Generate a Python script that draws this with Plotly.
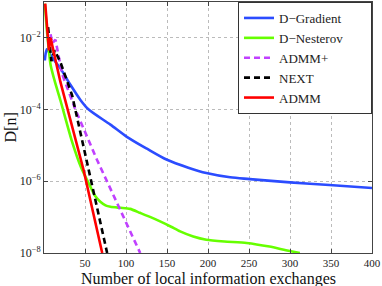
import plotly.graph_objects as go

# ---- data ----
grad_x = [1, 3.5, 10, 20, 32.2, 44.4, 54.5, 81, 101, 125.5, 150, 176, 198, 227, 251, 300, 348, 400]
grad_y = [2.34e-3, 4.79e-3, 2.82e-3, 1.41e-3, 4.9e-4, 1.86e-4, 1.0e-4, 3.8e-5, 1.74e-5, 8.1e-6,
          3.98e-6, 2.4e-6, 1.7e-6, 1.29e-6, 1.15e-6, 9.3e-7, 7.9e-7, 6.5e-7]

nest_x = [1, 4, 8, 13, 20, 34, 45, 56.5, 62, 68.7, 75, 81, 93, 105, 117, 130, 141.6, 155, 166,
          182, 198, 220, 247, 275, 295, 312]
nest_y = [9.0e-2, 1.26e-2, 1.78e-3, 6.3e-4, 1.82e-4, 1.32e-5, 2.5e-6, 7.1e-7, 4.0e-7, 2.69e-7,
          2.14e-7, 1.95e-7, 1.82e-7, 1.70e-7, 1.32e-7, 1.0e-7, 7.6e-8, 5.4e-8, 4.0e-8,
          2.88e-8, 2.34e-8, 2.09e-8, 1.91e-8, 1.51e-8, 1.20e-8, 1.0e-8]

admmp_x = [8, 10, 14, 22, 38.3, 48.4, 56.5, 64.6, 76.8, 91, 105, 117.3]
admmp_y = [1.26e-2, 7.1e-3, 8.9e-3, 1.0e-3, 1.0e-4, 2.82e-5, 1.12e-5, 3.98e-6, 1.0e-6, 2.0e-7,
           3.98e-8, 1.0e-8]

next_x = [5, 9, 13, 20, 34.3, 44.4, 52.5, 64.6, 77]
next_y = [2.0e-2, 2.24e-3, 4.5e-3, 2.1e-3, 2.5e-4, 2.24e-5, 3.16e-6, 2.0e-7, 1.0e-8]

admm_x = [1.5, 6, 8, 20, 48.4, 71]
admm_y = [9.0e-2, 4.5e-3, 1.0e-2, 5.9e-4, 2.0e-6, 1.0e-8]

x_ticks = [50, 100, 150, 200, 250, 300, 350, 400]
y_ticks = [1e-8, 1e-6, 1e-4, 1e-2]
y_ticktext = ["10<sup>−8</sup>", "10<sup>−6</sup>", "10<sup>−4</sup>", "10<sup>−2</sup>"]

FONT = "Liberation Serif"
PAD = "\u00a0" * 7

fig = go.Figure()
fig.add_trace(go.Scatter(x=grad_x, y=grad_y, mode="lines", name="D−Gradient" + PAD,
                         line=dict(color="#2b4cff", width=2.6, shape="spline", smoothing=0.8)))
fig.add_trace(go.Scatter(x=nest_x, y=nest_y, mode="lines", name="D−Nesterov" + PAD,
                         line=dict(color="#66ff00", width=2.6, shape="spline", smoothing=0.6)))
fig.add_trace(go.Scatter(x=admmp_x, y=admmp_y, mode="lines", name="ADMM+",
                         line=dict(color="#c040ff", width=2.6, dash="6px,4px")))
fig.add_trace(go.Scatter(x=next_x, y=next_y, mode="lines", name="NEXT",
                         line=dict(color="#000000", width=2.6, dash="6px,4px")))
fig.add_trace(go.Scatter(x=admm_x, y=admm_y, mode="lines", name="ADMM",
                         line=dict(color="#ff0000", width=2.6)))

L, R, T, B = 44, 10, 2, 33
W, H = 382, 286
pw, ph = W - L - R, H - T - B

fig.update_layout(
    width=W, height=H,
    margin=dict(l=L, r=R, t=T, b=B, autoexpand=False),
    paper_bgcolor="white", plot_bgcolor="white",
    font=dict(family=FONT, size=12, color="#222"),
    legend=dict(x=1, y=1, xanchor="right", yanchor="top",
                bgcolor="white", bordercolor="#333", borderwidth=1,
                font=dict(family=FONT, size=13, color="#222"),
                tracegroupgap=0),
    xaxis=dict(range=[0, 400], tickvals=x_ticks, ticks="inside", ticklen=4,
               automargin=False,
               showline=True, linecolor="#444", linewidth=1, mirror="ticks",
               showgrid=True, gridcolor="#bbb", griddash="dot", gridwidth=1,
               zeroline=False, tickfont=dict(family=FONT, size=11)),
    yaxis=dict(type="log", range=[-8, -1], tickvals=y_ticks, ticktext=y_ticktext,
               ticks="inside", ticklen=4, automargin=False,
               showline=True, linecolor="#444", linewidth=1, mirror="ticks",
               showgrid=True, gridcolor="#bbb", griddash="dot", gridwidth=1,
               zeroline=False, tickfont=dict(family=FONT, size=12)),
    annotations=[
        dict(text="Number of local information exchanges", xref="paper", yref="paper",
             x=0.5, y=(-(278.5 - (H - B)) / ph), xanchor="center", yanchor="middle",
             showarrow=False, font=dict(family=FONT, size=16, color="#111")),
        dict(text="D[n]", xref="paper", yref="paper", textangle=-90,
             x=(10 - L) / pw, y=0.5, xanchor="center", yanchor="middle",
             showarrow=False, font=dict(family=FONT, size=16, color="#111")),
    ],
)

fig.write_html("out.html", config={"displayModeBar": False},
               post_script="document.body.style.margin='0';document.body.style.overflow='hidden';")
